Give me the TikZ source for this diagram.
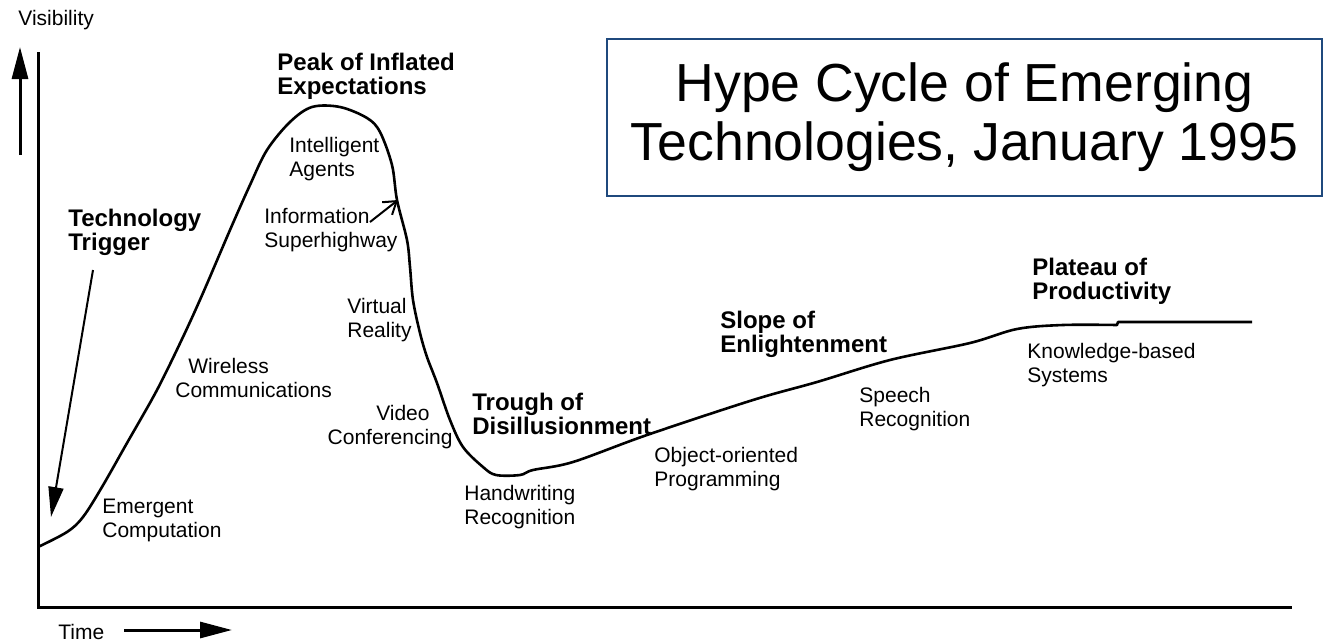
\documentclass[tikz,border=0pt]{standalone}
\usepackage{fontspec}
\setmainfont{Liberation Sans}
\usetikzlibrary{arrows.meta}

\definecolor{boxblue}{RGB}{31,73,125}

\begin{document}
\begin{tikzpicture}
      [x=0.5pt,y=-0.5pt,
       lbl/.style={anchor=north west, inner sep=0pt, align=left, font=\fontsize{10.5}{12}\selectfont},
       phase/.style={lbl, font=\fontsize{12}{12}\selectfont\bfseries},
       axis/.style={line width=1.5pt},
       curve/.style={line width=1.3pt, line join=round},
       bigarrow/.style={line width=1.5pt, -{Triangle[length=16pt,width=8pt]}}]
    \useasboundingbox (0,0) rectangle (1324,643);

    % axes
    \draw[axis] (38,52) -- (38,607) -- (1292,607);
    \node[lbl] (vis) at (18,10) {Visibility};
    \node[lbl] (time) at (58,624) {Time};
    \coordinate (vtail) at (20,155);
    \coordinate (vhead) at (20,47);
    \coordinate (ttail) at (124,630);
    \coordinate (thead) at (232,630);
    \draw[bigarrow] (vtail) -- (vhead);
    \draw[bigarrow] (ttail) -- (thead);

    % title
    \node[draw=boxblue, line width=1pt, minimum width=357.5pt, minimum height=78.5pt, inner sep=0pt,
          align=center, font=\fontsize{26.8}{29.5}\selectfont] (title) at (964.5,117.5)
          {Hype Cycle of Emerging\\Technologies, January 1995};

    % the cycle
    \draw[curve] plot[smooth, tension=0.55] coordinates {(38,547) (67,532) (83,517) (102,487) (127,443)
        (157,390) (183,337) (203,293) (230,230) (250,185) (267,150) (290,122) (312,107) (340,107)
        (367,118) (380,132) (392,165) (397,200) (407,240) (410,267) (413,300) (420,333) (427,357)
        (437,383) (450,420) (463,447) (483,467) (496,475) (520,475) (533,470) (573,462) (647,435)
        (753,400) (817,382) (890,360) (970,343) (1017,329) (1063,325) (1117,325)}
        -- (1118,322) -- (1252,322);

    % phases
    \node[phase] (trigger) at (68,209) {Technology\\Trigger};
    \node[phase] (peak) at (277,53) {Peak of Inflated\\Expectations};
    \node[phase] (trough) at (472,393) {Trough of\\Disillusionment};
    \node[phase] (slope) at (720,311) {Slope of\\Enlightenment};
    \node[phase] (plateau) at (1032,258) {Plateau of\\Productivity};

    % technologies
    \foreach \nm/\x/\y/\txt in {agents/289/137/{Intelligent\\Agents}, info/264/208/{Information\\Superhighway},
        vr/347/298/{Virtual\\Reality}, wireless/175/358/{\hspace*{6.5pt}Wireless\\Communications},
        emergent/102/499/{Emergent\\Computation}, handwriting/464/485/{Handwriting\\Recognition},
        oop/654/447/{Object-oriented\\Programming}, speech/859/387/{Speech\\Recognition},
        kbs/1027/343/{Knowledge-based\\Systems}}
      \node[lbl] (\nm) at (\x,\y) {\txt};
    \node[lbl, anchor=north east, align=right] (video) at (453,405) {Video\hspace*{11.5pt}\\Conferencing};

    \coordinate (trigtail) at (93,270);
    \coordinate (trighead) at (51,517);
    \draw[line width=1pt, -{Triangle[length=15pt,width=7.5pt]}] (trigtail) -- (trighead);
    \coordinate (infotail) at (370,222);
    \coordinate (infohead) at (398,200);
    \draw[line width=1pt, -{Straight Barb[length=6pt,width=8pt]}] (infotail) -- (infohead);
  \end{tikzpicture}
\end{document}
